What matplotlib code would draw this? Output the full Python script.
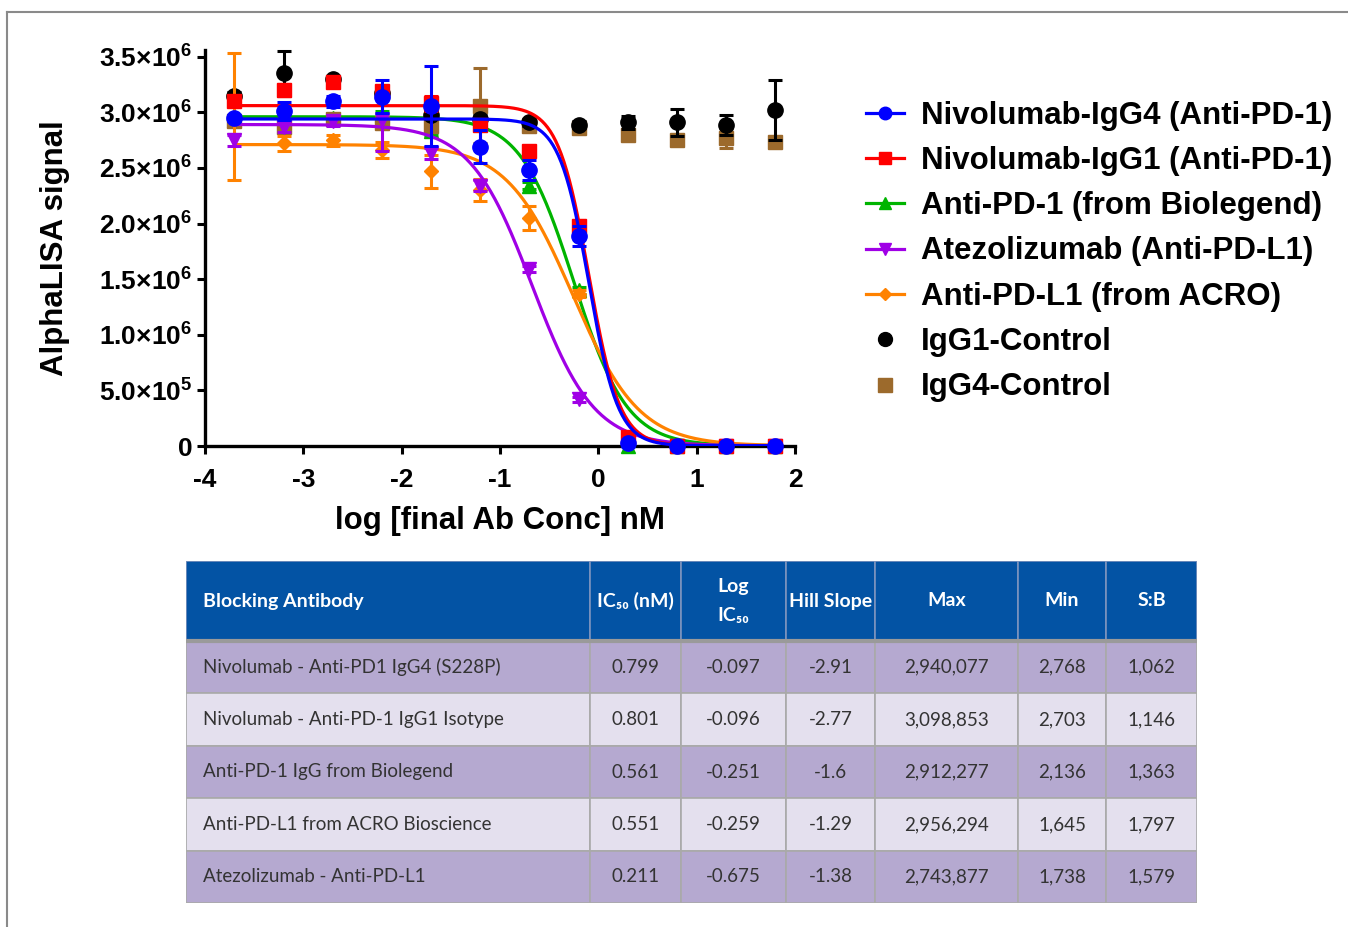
import numpy as np
import matplotlib
matplotlib.use('Agg')
import matplotlib.pyplot as plt
from matplotlib.lines import Line2D
from matplotlib.patches import Rectangle
from matplotlib.ticker import FuncFormatter

plt.rcParams['font.family'] = 'Liberation Sans'
plt.rcParams['font.weight'] = 'bold'
plt.rcParams['mathtext.fontset'] = 'custom'
plt.rcParams['mathtext.rm'] = 'Liberation Sans'
plt.rcParams['mathtext.bf'] = 'Liberation Sans:bold'

# --- dose-response data (log nM, mean / SD of AlphaLISA signal) ---
log_conc = [-3.7, -3.2, -2.7, -2.2, -1.7, -1.2, -0.7, -0.2, 0.3, 0.8, 1.3, 1.8]

igg4_mean = [2.95e6, 3.01e6, 3.10e6, 3.14e6, 3.06e6, 2.69e6, 2.48e6, 1.89e6, 0.03e6, 0, 0, 0]
igg4_sd   = [0.03e6, 0.08e6, 0.05e6, 0.15e6, 0.36e6, 0.15e6, 0.09e6, 0.09e6, 0.01e6, 0, 0, 0]
igg1_mean = [3.10e6, 3.20e6, 3.27e6, 3.19e6, 3.08e6, 2.89e6, 2.65e6, 1.98e6, 0.08e6, 0, 0, 0]
igg1_sd   = [0.03e6, 0.05e6, 0.04e6, 0.05e6, 0.07e6, 0.05e6, 0.03e6, 0.05e6, 0.02e6, 0, 0, 0]
biol_mean = [2.93e6, 2.95e6, 2.95e6, 2.98e6, 2.83e6, 2.90e6, 2.34e6, 1.40e6, 0.0, 0, 0, 0]
biol_sd   = [0.03e6, 0.03e6, 0.03e6, 0.03e6, 0.03e6, 0.03e6, 0.03e6, 0.03e6, 0.0, 0, 0, 0]
atezo_mean = [2.75e6, 2.87e6, 2.92e6, 2.93e6, 2.63e6, 2.34e6, 1.59e6, 0.42e6, 0.02e6, 0, 0, 0]
atezo_sd   = [0.05e6, 0.05e6, 0.04e6, 0.28e6, 0.05e6, 0.05e6, 0.03e6, 0.02e6, 0.01e6, 0, 0, 0]
acro_mean = [2.96e6, 2.72e6, 2.75e6, 2.66e6, 2.47e6, 2.30e6, 2.05e6, 1.37e6, 0.02e6, 0, 0, 0]
acro_sd   = [0.57e6, 0.07e6, 0.05e6, 0.07e6, 0.15e6, 0.10e6, 0.11e6, 0.03e6, 0.01e6, 0, 0, 0]
ctrl1_mean = [3.15e6, 3.35e6, 3.30e6, 3.17e6, 2.98e6, 2.94e6, 2.91e6, 2.89e6, 2.91e6, 2.91e6, 2.89e6, 3.02e6]
ctrl1_sd   = [0.03e6, 0.20e6, 0.03e6, 0.05e6, 0.04e6, 0.04e6, 0.03e6, 0.03e6, 0.06e6, 0.12e6, 0.09e6, 0.27e6]
ctrl4_mean = [2.92e6, 2.87e6, 2.94e6, 2.90e6, 2.88e6, 3.06e6, 2.88e6, 2.86e6, 2.80e6, 2.75e6, 2.77e6, 2.73e6]
ctrl4_sd   = [0.04e6, 0.04e6, 0.04e6, 0.04e6, 0.04e6, 0.34e6, 0.03e6, 0.03e6, 0.03e6, 0.04e6, 0.09e6, 0.04e6]

# 4PL fit parameters for the drawn curves (IgG4, IgG1, Biolegend, Atezolizumab, ACRO)
fit_top = [2.94e6, 3.06e6, 2.96e6, 2.89e6, 2.71e6]
fit_bottom = [2768, 2703, 2136, 1738, 1645]
fit_logic50 = [-0.097, -0.096, -0.251, -0.675, -0.259]
fit_hill = [-2.91, -2.77, -1.6, -1.38, -1.29]

legend_labels = ['Nivolumab-IgG4 (Anti-PD-1)', 'Nivolumab-IgG1 (Anti-PD-1)',
                 'Anti-PD-1 (from Biolegend)', 'Atezolizumab (Anti-PD-L1)',
                 'Anti-PD-L1 (from ACRO)', 'IgG1-Control', 'IgG4-Control']

yticks = [0, 5e5, 1e6, 1.5e6, 2e6, 2.5e6, 3e6, 3.5e6]
xticks = [-4, -3, -2, -1, 0, 1, 2]

# --- summary table ---
table_header = ['Blocking Antibody', 'IC₅₀ (nM)', 'Log\nIC₅₀', 'Hill Slope', 'Max', 'Min', 'S:B']
table_antibody = ['Nivolumab - Anti-PD1 IgG4 (S228P)', 'Nivolumab - Anti-PD-1 IgG1 Isotype',
                  'Anti-PD-1 IgG from Biolegend', 'Anti-PD-L1 from ACRO Bioscience',
                  'Atezolizumab - Anti-PD-L1']
table_ic50 = ['0.799', '0.801', '0.561', '0.551', '0.211']
table_logic50 = ['-0.097', '-0.096', '-0.251', '-0.259', '-0.675']
table_hill = ['-2.91', '-2.77', '-1.6', '-1.29', '-1.38']
table_max = ['2,940,077', '3,098,853', '2,912,277', '2,956,294', '2,743,877']
table_min = ['2,768', '2,703', '2,136', '1,645', '1,738']
table_sb = ['1,062', '1,146', '1,363', '1,797', '1,579']

W, H = 1348, 927
fig = plt.figure(figsize=(W / 100, H / 100), dpi=100)
fig.patch.set_facecolor('white')

ax = fig.add_axes([205 / W, 1 - 446 / H, 590 / W, 396 / H])

series = [
    # mean, sd, color, marker, size, fit index, zorder
    (biol_mean, biol_sd, '#00B400', '^', 10, 2, 3),
    (ctrl4_mean, ctrl4_sd, '#9C6A2C', 's', 10, None, 4),
    (ctrl1_mean, ctrl1_sd, 'black', 'o', 11, None, 5),
    (acro_mean, acro_sd, '#FF8200', 'D', 7, 4, 6),
    (atezo_mean, atezo_sd, '#A000E6', 'v', 10, 3, 7),
    (igg1_mean, igg1_sd, '#FF0000', 's', 9.5, 1, 8),
    (igg4_mean, igg4_sd, '#0000FF', 'o', 11, 0, 9),
]

xs = np.linspace(log_conc[0], log_conc[-1], 400)
for mean, sd, color, marker, ms, fi, z in series:
    ax.errorbar(log_conc, mean, yerr=sd, fmt=marker, color=color, ms=ms,
                elinewidth=2.2, capsize=5, capthick=2.2, zorder=z, clip_on=False)
    if fi is not None:
        top, bot = fit_top[fi], fit_bottom[fi]
        curve = bot + (top - bot) / (1 + 10 ** ((fit_logic50[fi] - xs) * fit_hill[fi]))
        ax.plot(xs, curve, color=color, lw=2.3, zorder=z)

ax.set_xlim(-4, 2)
ax.set_ylim(0, 3.56e6)
ax.set_xticks(xticks)
ax.set_yticks(yticks)


def sci_label(v, pos):
    if v == 0:
        return '0'
    e = int(np.floor(np.log10(v)))
    m = v / 10 ** e
    return r'$\mathbf{%.1f}{\times}\mathbf{10^{%d}}$' % (m, e)


ax.yaxis.set_major_formatter(FuncFormatter(sci_label))
ax.xaxis.set_major_formatter(FuncFormatter(lambda v, p: '%d' % v))
ax.tick_params(axis='both', width=2.2, length=6, labelsize=19)
ax.tick_params(axis='y', pad=3)
ax.tick_params(axis='x', pad=10)
for side in ['top', 'right']:
    ax.spines[side].set_visible(False)
for side in ['left', 'bottom']:
    ax.spines[side].set_linewidth(2.4)
ax.set_xlabel('log [final Ab Conc] nM', fontsize=22.5, fontweight='bold', labelpad=10)
ax.set_ylabel('AlphaLISA signal', fontsize=22.5, fontweight='bold', labelpad=21)

# legend
legend_style = [('#0000FF', 'o', 9, '-'), ('#FF0000', 's', 8, '-'), ('#00B400', '^', 9, '-'),
                ('#A000E6', 'v', 9, '-'), ('#FF8200', 'D', 6, '-'),
                ('black', 'o', 10, 'none'), ('#9C6A2C', 's', 9.5, 'none')]
handles = [Line2D([], [], color=c, marker=m, ms=s, ls=ls, lw=2.3)
           for c, m, s, ls in legend_style]
fig.legend(handles, legend_labels, loc='center left',
           bbox_to_anchor=(866 / W, 1 - 251.5 / H), frameon=False,
           fontsize=22.5, handlelength=1.2, handletextpad=0.55,
           labelspacing=0.49, borderpad=0, borderaxespad=0)

# table
tax = fig.add_axes([186 / W, 1 - 903 / H, 1011 / W, 342 / H])
tax.set_xlim(0, 1011)
tax.set_ylim(342, 0)
tax.axis('off')

col_edges = [0, 404, 495, 600, 689, 832, 920, 1011]
header_h = 80
row_h = 52.4
table_font = ['Lato', 'DejaVu Sans']

for j, head in enumerate(table_header):
    x0, x1 = col_edges[j], col_edges[j + 1]
    tax.add_patch(Rectangle((x0, 0), x1 - x0, header_h, facecolor='#0353A4',
                            edgecolor='#7C93BE', lw=1.2))
    if j == 0:
        tax.text(x0 + 17, header_h / 2, head, ha='left', va='center', color='white',
                 fontsize=14, fontweight='bold', family=table_font)
    else:
        tax.text((x0 + x1) / 2, header_h / 2, head, ha='center', va='center', color='white',
                 fontsize=14, fontweight='bold', family=table_font, linespacing=1.9)

rows = list(zip(table_antibody, table_ic50, table_logic50, table_hill,
                table_max, table_min, table_sb))
for i, row in enumerate(rows):
    y0 = header_h + i * row_h
    face = '#B5A9D0' if i % 2 == 0 else '#E4E0EE'
    for j, val in enumerate(row):
        x0, x1 = col_edges[j], col_edges[j + 1]
        tax.add_patch(Rectangle((x0, y0), x1 - x0, row_h, facecolor=face,
                                edgecolor='#A9A9A9', lw=1.2))
        if j == 0:
            tax.text(x0 + 17, y0 + row_h / 2, val, ha='left', va='center',
                     color='#333333', fontsize=13.5, fontweight='normal', family=table_font)
        else:
            tax.text((x0 + x1) / 2, y0 + row_h / 2, val, ha='center', va='center',
                     color='#333333', fontsize=13.5, fontweight='normal', family=table_font)
tax.plot([0, 1011], [header_h, header_h], color='#9A9A9A', lw=3)

# page frame
fig.add_artist(Line2D([7 / W, 1], [1 - 12 / H, 1 - 12 / H], transform=fig.transFigure,
                      color='#8A8A8A', lw=1.5))
fig.add_artist(Line2D([7 / W, 7 / W], [0, 1 - 12 / H], transform=fig.transFigure,
                      color='#8A8A8A', lw=1.5))

fig.savefig('out.png', dpi=100, facecolor='white')
